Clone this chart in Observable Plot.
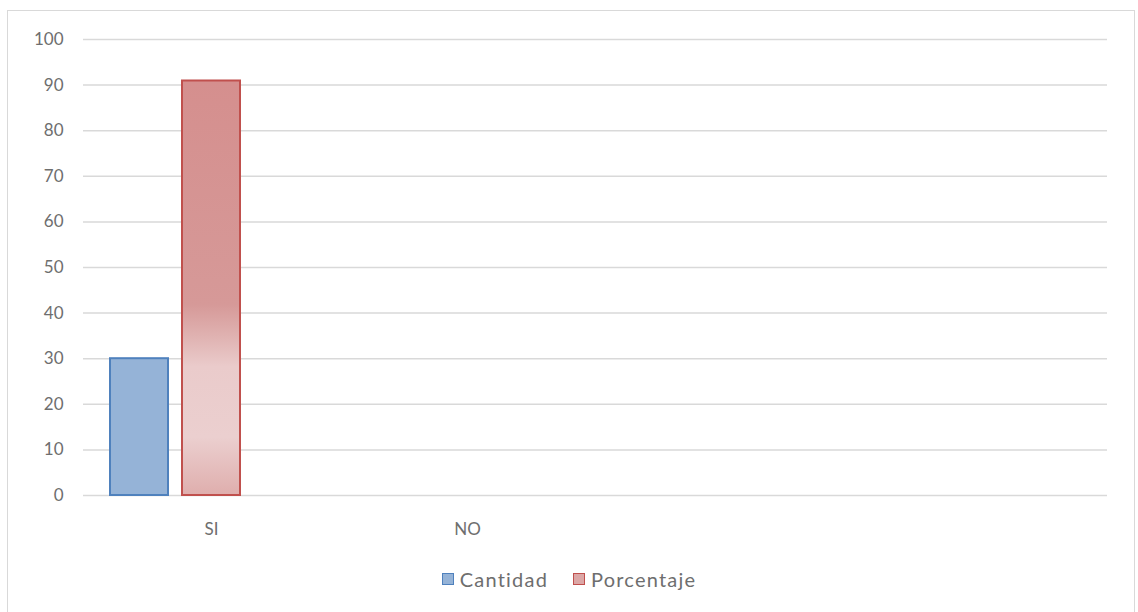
<!DOCTYPE html>
<html>
<head>
<meta charset="utf-8">
<script src="https://cdn.jsdelivr.net/npm/d3@7"></script>
<script src="https://cdn.jsdelivr.net/npm/@observablehq/plot@0.6"></script>
<style>
  html, body { margin: 0; padding: 0; background: #fff; }
  #wrap { position: relative; width: 1138px; height: 612px; overflow: hidden; font-family: Lato, "Open Sans", sans-serif; }
  #frame { position: absolute; left: 7px; top: 10px; width: 1128px; height: 640px; border: 1.5px solid #d9d9d9; box-sizing: border-box; }
  #chart { position: absolute; left: 0; top: 0; }
  #legend { position: absolute; left: 0; top: 567px; width: 1138px; display: flex; justify-content: center; gap: 25px; color: #6e6e6e; font-size: 20px; letter-spacing: 1.2px; }
  .item { display: flex; align-items: center; gap: 6px; }
  .sw { width: 12px; height: 12px; box-sizing: border-box; border: 1.5px solid; }
</style>
</head>
<body>
<div id="wrap">
  <div id="frame"></div>
  <div id="chart"></div>
  <div id="legend"></div>
</div>
<script>
const categories = ["SI", "NO", "", " "];
const seriesNames = ["Cantidad", "Porcentaje", "Serie3"];
const cantidad = [30, 0, 0, 0];
const porcentaje = [90.9, 0, 0, 0];
const yTicks = [0, 10, 20, 30, 40, 50, 60, 70, 80, 90, 100];

const data = [];
categories.forEach((c, i) => {
  data.push({cat: c, series: "Cantidad", value: cantidad[i]});
  data.push({cat: c, series: "Porcentaje", value: porcentaje[i]});
});

const gradientDefs = () => {
  const defs = d3.create("svg:defs");
  const g = defs.append("linearGradient").attr("id", "redgrad")
    .attr("x1", 0).attr("y1", 0).attr("x2", 0).attr("y2", 1);
  [[0, "#d58f8e"], [0.54, "#d69998"], [0.62, "#e0b3b2"], [0.69, "#eacbcb"], [0.86, "#ebcfcf"], [1, "#dfaead"]]
    .forEach(([o, c]) => g.append("stop").attr("offset", o).attr("stop-color", c));
  return defs.node();
};

const chart = Plot.plot({
  width: 1138,
  height: 540,
  marginLeft: 82,
  marginRight: 31,
  marginTop: 39,
  marginBottom: 45,
  style: {fontFamily: "Lato, 'Open Sans', sans-serif", fontSize: "17px", color: "#6e6e6e", background: "transparent", overflow: "visible"},
  fx: {domain: categories, padding: 0, label: null, tickSize: 0, tickPadding: 27},
  x: {domain: seriesNames, axis: null, paddingInner: 0.19, paddingOuter: 0.35},
  y: {domain: [0, 100], ticks: yTicks, label: null, tickSize: 0, tickPadding: 20},
  marks: [
    gradientDefs,
    Plot.gridY(yTicks, {stroke: "#d9d9d9", strokeOpacity: 1, strokeWidth: 1.5}),
    // invisible marks so every category facet (including empty ones) is kept
    Plot.tickY(data, {fx: "cat", x: "series", y: "value", strokeOpacity: 0}),
    Plot.barY(data.filter(d => d.series === "Cantidad" && d.value > 0),
      {fx: "cat", x: "series", y: "value", fill: "#95b3d7", stroke: "#4f81bd", strokeWidth: 2}),
    Plot.barY(data.filter(d => d.series === "Porcentaje" && d.value > 0),
      {fx: "cat", x: "series", y: "value", fill: "url(#redgrad)", stroke: "#c0504d", strokeWidth: 2})
  ]
});
document.getElementById("chart").appendChild(chart);

const legendItems = [
  {name: "Cantidad", fill: "#95b3d7", stroke: "#4f81bd"},
  {name: "Porcentaje", fill: "#dca7a6", stroke: "#c0504d"}
];
const legend = document.getElementById("legend");
legendItems.forEach(it => {
  const d = document.createElement("div");
  d.className = "item";
  d.innerHTML = `<span class="sw" style="background:${it.fill};border-color:${it.stroke}"></span><span>${it.name}</span>`;
  legend.appendChild(d);
});
</script>
</body>
</html>
